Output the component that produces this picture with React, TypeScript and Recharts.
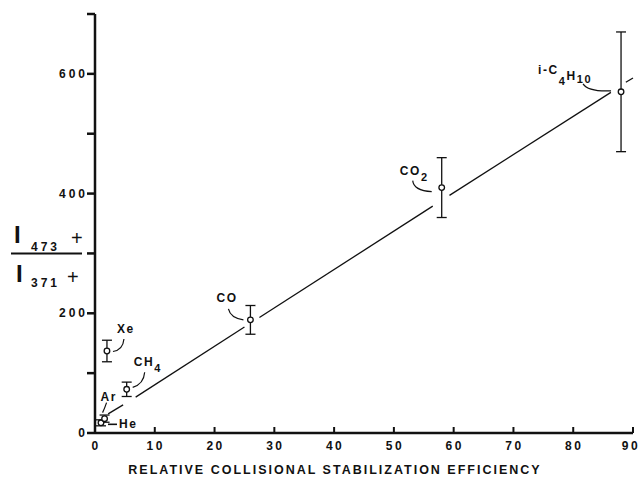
import React from 'react';
import { ScatterChart, Scatter, XAxis, YAxis, ErrorBar, ReferenceLine, ReferenceDot } from 'recharts';

const gases = ['He', 'Ar', 'Xe', 'CH4', 'CO', 'CO2', 'i-C4H10'];
const efficiency = [1.0, 1.6, 2.0, 5.3, 26, 58, 88];
const intensityRatio = [17, 24, 137, 73, 189, 410, 570];
const ratioError = [5, 6, 18, 12, 24, 50, 100];

const xTicks = [0, 10, 20, 30, 40, 50, 60, 70, 80, 90];
const yTicks = [0, 100, 200, 300, 400, 500, 600, 700];
const yLabelled = [0, 200, 400, 600];

// fitted line, broken around the markers like the original drawing
const fitSegments = [
  [[2.2, 32], [4.7, 47]],
  [[6.8, 60], [25, 177]],
  [[27.5, 193], [56.5, 379]],
  [[59.3, 397], [86.3, 569]],
  [[88.8, 586], [90, 593]],
];

const points = gases.map((g, i) => ({
  name: g,
  x: efficiency[i],
  y: intensityRatio[i],
  err: ratioError[i],
}));

const FONT = '"Liberation Sans", Arial, Helvetica, sans-serif';
const INK = '#111';

const txt = {
  fontFamily: FONT,
  fontWeight: 700,
  fill: INK,
  fontSize: 12,
  letterSpacing: 1.6,
} as const;

// label text + leader curve, offsets in px from the marker
const renderNote = (name: string, cx: number, cy: number) => {
  const g = (children: React.ReactNode) => <g transform={`translate(${cx},${cy})`}>{children}</g>;
  const leader = (d: string) => <path d={d} fill="none" stroke={INK} strokeWidth={1.2} />;
  switch (name) {
    case 'He':
      return g(<>
        <line x1={7} y1={1.5} x2={16} y2={1.5} stroke={INK} strokeWidth={1.6} />
        <text x={18} y={1.5} dominantBaseline="central" {...txt}>He</text>
      </>);
    case 'Ar':
      return g(<>
        {leader('M 2 -16 Q 0 -10 -2 -6')}
        <text x={-4} y={-22} dominantBaseline="central" {...txt}>Ar</text>
      </>);
    case 'Xe':
      return g(<>
        {leader('M 17 -12 Q 16 -1 6 0.5')}
        <text x={10} y={-21.5} dominantBaseline="central" {...txt}>Xe</text>
      </>);
    case 'CH4':
      return g(<>
        {leader('M 18 -17 Q 17 -5 6 -2')}
        <text x={7} y={-27} dominantBaseline="central" {...txt}>CH<tspan dy={6} fontSize={11}>4</tspan></text>
      </>);
    case 'CO':
      return g(<>
        {leader('M -22 -11 Q -20 -2 -7 0')}
        <text x={-34} y={-22} dominantBaseline="central" {...txt}>CO</text>
      </>);
    case 'CO2':
      return g(<>
        {leader('M -29 -7 Q -28 3 -10 4')}
        <text x={-42} y={-17} dominantBaseline="central" {...txt}>CO<tspan dy={6} fontSize={11}>2</tspan></text>
      </>);
    default:
      return g(<>
        {leader('M -38 -8 Q -33 0 -10 -1')}
        <text x={-83} y={-22} dominantBaseline="central" {...txt}>
          i-C<tspan dy={11} fontSize={11}>4</tspan><tspan dy={-5}>H</tspan><tspan dy={3} fontSize={11}>10</tspan>
        </text>
      </>);
  }
};

const XTick = ({ x, y, payload }: any) => (
  <g>
    <line x1={x} y1={y} x2={x} y2={y - 6} stroke={INK} strokeWidth={2} />
    <text
      x={payload.value === 90 ? x - 2 : x + 1}
      y={y + 13}
      textAnchor="middle"
      dominantBaseline="central"
      {...txt}
      fontSize={12}
      letterSpacing={2.5}
    >
      {payload.value}
    </text>
  </g>
);

const YTick = ({ x, y, payload }: any) => (
  <g>
    <line x1={x - 8} y1={y} x2={x} y2={y} stroke={INK} strokeWidth={2.5} />
    {yLabelled.includes(payload.value) && (
      <text x={x - 7} y={y} textAnchor="end" dominantBaseline="central" {...txt} fontSize={12} letterSpacing={3}>
        {payload.value}
      </text>
    )}
  </g>
);

const RatioLabel = () => (
  <g fill={INK} fontFamily={FONT}>
    <text x={14} y={243} fontSize={24} fontWeight={700}>I</text>
    <text x={31} y={251} fontSize={12} fontWeight={700} letterSpacing={3}>473</text>
    <text x={71} y={245} fontSize={20}>+</text>
    <line x1={11} y1={253.5} x2={82} y2={253.5} stroke={INK} strokeWidth={2.2} />
    <text x={16} y={282} fontSize={24} fontWeight={700}>I</text>
    <text x={31} y={287} fontSize={12} fontWeight={700} letterSpacing={3}>371</text>
    <text x={67} y={284} fontSize={20}>+</text>
  </g>
);

const EffLabel = () => (
  <text x={335} y={470} textAnchor="middle" dominantBaseline="central" {...txt} fontSize={12.5} letterSpacing={2}>
    RELATIVE COLLISIONAL STABILIZATION EFFICIENCY
  </text>
);

const Marker = ({ cx, cy }: any) => (
  <circle cx={cx} cy={cy} r={2.8} fill="#fff" stroke={INK} strokeWidth={1.3} />
);

export default function App() {
  return (
    <div style={{ position: 'absolute', left: 0, top: 0, width: 641, height: 479, background: '#fff' }}>
      <ScatterChart width={641} height={479} margin={{ top: 14, right: 8, bottom: 0, left: 0 }}>
        <XAxis
          type="number"
          dataKey="x"
          domain={[0, 90]}
          ticks={xTicks}
          height={46}
          tickSize={0}
          tickMargin={0}
          tickLine={false}
          tick={<XTick />}
          axisLine={{ stroke: INK, strokeWidth: 2.5 }}
          label={<EffLabel />}
        />
        <YAxis
          type="number"
          dataKey="y"
          domain={[0, 700]}
          ticks={yTicks}
          width={95}
          tickSize={0}
          tickMargin={0}
          tickLine={false}
          tick={<YTick />}
          axisLine={{ stroke: INK, strokeWidth: 2.5 }}
          label={<RatioLabel />}
        />
        {fitSegments.map((s, i) => (
          <ReferenceLine
            key={i}
            segment={[{ x: s[0][0], y: s[0][1] }, { x: s[1][0], y: s[1][1] }]}
            stroke={INK}
            strokeWidth={1.3}
            ifOverflow="visible"
          />
        ))}
        {points.map((p) => (
          <ReferenceDot
            key={p.name}
            x={p.x}
            y={p.y}
            ifOverflow="visible"
            shape={(props: any) => renderNote(p.name, props.cx, props.cy)}
          />
        ))}
        <Scatter data={points} isAnimationActive={false} shape={<Marker />}>
          <ErrorBar dataKey="err" direction="y" width={5} stroke={INK} strokeWidth={1.3} />
        </Scatter>
      </ScatterChart>
    </div>
  );
}
